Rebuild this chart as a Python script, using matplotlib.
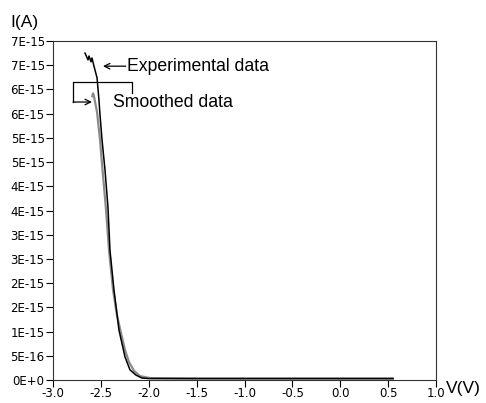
import matplotlib
matplotlib.use("Agg")
import matplotlib.pyplot as plt
from matplotlib.ticker import FixedLocator, FixedFormatter

# Experimental data (V, I)
exp_v = [-2.666, -2.634, -2.624, -2.603, -2.593, -2.572, -2.540, -2.520, -2.509,
         -2.488, -2.457, -2.426, -2.405, -2.363, -2.311, -2.248, -2.196, -2.133,
         -2.070, -2.000, -1.800, -1.500, -1.000, -0.500, 0.000, 0.550]
exp_i = [6.75e-15, 6.61e-15, 6.69e-15, 6.57e-15, 6.65e-15, 6.48e-15, 6.24e-15,
         5.78e-15, 5.47e-15, 4.96e-15, 4.34e-15, 3.57e-15, 2.68e-15, 1.86e-15,
         1.03e-15, 0.475e-15, 0.21e-15, 0.10e-15, 0.04e-15, 0.03e-15, 0.03e-15,
         0.03e-15, 0.03e-15, 0.03e-15, 0.03e-15, 0.03e-15]

# Smoothed data (V, I)
sm_v = [-2.590, -2.582, -2.572, -2.540, -2.509, -2.478, -2.446, -2.415, -2.373,
        -2.332, -2.290, -2.248, -2.206, -2.154, -2.091, -1.987, -1.500, -1.000,
        -0.500, 0.000, 0.550]
sm_i = [5.86e-15, 5.92e-15, 5.86e-15, 5.53e-15, 4.96e-15, 4.23e-15, 3.51e-15,
        2.68e-15, 1.86e-15, 1.34e-15, 0.97e-15, 0.62e-15, 0.37e-15, 0.19e-15,
        0.08e-15, 0.04e-15, 0.03e-15, 0.03e-15, 0.03e-15, 0.03e-15, 0.03e-15]

x_ticks = [-3.0, -2.5, -2.0, -1.5, -1.0, -0.5, 0.0, 0.5, 1.0]
x_labels = ["-3.0", "-2.5", "-2.0", "-1.5", "-1.0", "-0.5", "0.0", "0.5", "1.0"]
y_ticks = [i * 5e-16 for i in range(15)]
y_labels = ["0E+0", "5E-16", "1E-15", "2E-15", "2E-15", "3E-15", "3E-15", "4E-15",
            "4E-15", "5E-15", "5E-15", "6E-15", "6E-15", "7E-15", "7E-15"]

fig = plt.figure(figsize=(4.86, 4.03), dpi=100)
ax = fig.add_axes([53/486, 23/403, (436-53)/486, (380-41)/403])

ax.plot(sm_v, sm_i, color="#8a8a8a", lw=1.6, zorder=2)
ax.plot(exp_v, exp_i, color="black", lw=1.1, zorder=3)

ax.set_xlim(-3.0, 1.0)
ax.set_ylim(0, 7e-15)
ax.xaxis.set_major_locator(FixedLocator(x_ticks))
ax.xaxis.set_major_formatter(FixedFormatter(x_labels))
ax.yaxis.set_major_locator(FixedLocator(y_ticks))
ax.yaxis.set_major_formatter(FixedFormatter(y_labels))
ax.tick_params(axis="both", direction="out", length=5, width=0.8, pad=1,
               labelsize=8.5, colors="black")
ax.tick_params(axis="x", pad=0)
for lab in ax.get_xticklabels() + ax.get_yticklabels():
    lab.set_family("DejaVu Sans")
for s in ax.spines.values():
    s.set_linewidth(0.8)
    s.set_color("#333333")

afont = dict(family="Liberation Sans", fontsize=12.7)

# Experimental label + arrow
ax.text(-2.227, 6.48e-15, "Experimental data", va="center", ha="left", **afont)
ax.annotate("", xy=(-2.478, 6.48e-15), xytext=(-2.240, 6.48e-15),
            arrowprops=dict(arrowstyle="->", lw=0.9, color="black",
                            shrinkA=0, shrinkB=0, mutation_scale=10))

# Smoothed label + bracket arrow
ax.text(-2.373, 5.72e-15, "Smoothed data", va="center", ha="left", **afont)
ax.plot([-2.175, -2.175, -2.791, -2.791], [5.93e-15, 6.15e-15, 6.15e-15, 5.74e-15],
        color="black", lw=0.9, zorder=4)
ax.annotate("", xy=(-2.593, 5.74e-15), xytext=(-2.791, 5.74e-15),
            arrowprops=dict(arrowstyle="->", lw=0.9, color="black",
                            shrinkA=0, shrinkB=0, mutation_scale=10))

fig.text(10/486, 1 - 22/403, "I(A)", ha="left", va="center",
         family="Liberation Sans", fontsize=12.5)
fig.text(446/486, 1 - 389/403, "V(V)", ha="left", va="center",
         family="Liberation Sans", fontsize=12.5)

fig.savefig("out.png", dpi=100)
